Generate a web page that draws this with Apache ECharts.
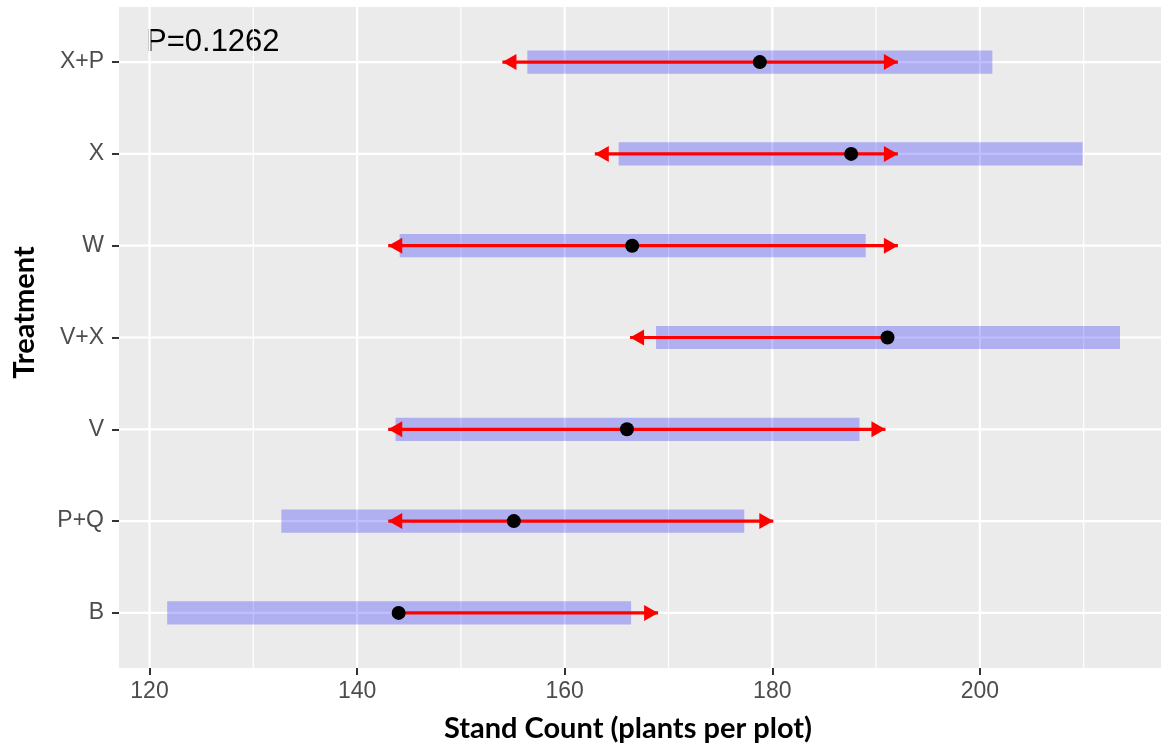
<!DOCTYPE html>
<html>
<head>
<meta charset="utf-8">
<style>
  html, body { margin: 0; padding: 0; background: #ffffff; }
  #chart { width: 1161px; height: 749px; }
</style>
<script src="https://cdn.jsdelivr.net/npm/echarts@6/dist/echarts.min.js"></script>
</head>
<body>
<div id="chart"></div>
<script>
// Treatments, bottom to top
const categories = ['B', 'P+Q', 'V', 'V+X', 'W', 'X', 'X+P'];
// Mean stand count per treatment
const means = [144.0, 155.1, 166.0, 191.1, 166.5, 187.6, 178.8];
// Confidence interval bounds (blue bands)
const ciLow = [121.7, 132.7, 143.7, 168.8, 144.1, 165.2, 156.4];
const ciHigh = [166.4, 177.3, 188.4, 213.5, 189.0, 209.9, 201.2];
// Comparison arrow ends (null = no arrow on that side)
const arrowLow = [null, 143.0, 143.0, 166.3, 143.0, 162.9, 154.0];
const arrowHigh = [169.0, 180.1, 190.9, null, 192.1, 192.1, 192.1];
// Axis ticks
const xMajorTicks = [120, 140, 160, 180, 200];
const xMinorTicks = [130, 150, 170, 190, 210];
const pValueText = 'P=0.1262';

const yPos = categories.map((c, i) => i + 1);

const bandData = categories.map((c, i) => [yPos[i], ciLow[i], ciHigh[i]]);
const arrowData = categories.map((c, i) => [
  yPos[i],
  arrowLow[i] == null ? means[i] : arrowLow[i],
  arrowHigh[i] == null ? means[i] : arrowHigh[i],
  arrowLow[i] == null ? 0 : 1,
  arrowHigh[i] == null ? 0 : 1
]);
const pointData = categories.map((c, i) => [means[i], yPos[i]]);

// grid line records: [orientation (0 = vertical, 1 = horizontal), value, width]
const gridLineData = [
  ...xMinorTicks.map(v => [0, v, 1.2]),
  ...xMajorTicks.map(v => [0, v, 2.2]),
  ...yPos.map(v => [1, v, 2.2])
];

const chart = echarts.init(document.getElementById('chart'), null, { renderer: 'canvas' });

const tickFont = { fontFamily: 'Liberation Sans, Arial, sans-serif', fontSize: 23, color: '#4D4D4D' };
const titleFont = { fontFamily: 'Lato, sans-serif', fontWeight: 'bold', fontSize: 29, color: '#000000' };

function arrowHead(tip, dir) {
  const len = 14, half = 8;
  const bx = tip[0] - dir * len;
  return {
    type: 'polygon',
    shape: { points: [[tip[0], tip[1]], [bx, tip[1] - half], [bx, tip[1] + half]] },
    style: { fill: '#FF0000' }
  };
}

const option = {
  animation: false,
  backgroundColor: '#ffffff',
  grid: {
    left: 119, right: 0, top: 7, bottom: 81,
    containLabel: false,
    outerBoundsMode: 'none',
    show: true, backgroundColor: '#EBEBEB', borderWidth: 0
  },
  xAxis: {
    type: 'value',
    min: 117.06, max: 217.45,
    axisLine: { show: false },
    splitLine: { show: false },
    axisTick: { show: true, length: 7, lineStyle: { color: '#333333', width: 2 }, customValues: xMajorTicks },
    axisLabel: Object.assign({ margin: 12, customValues: xMajorTicks }, tickFont),
    name: 'Stand Count (plants per plot)',
    nameLocation: 'middle',
    nameGap: 46,
    nameTextStyle: Object.assign({ padding: [0, 24, 0, 0] }, titleFont)
  },
  yAxis: {
    type: 'value',
    min: 0.4, max: 7.6,
    axisLine: { show: false },
    splitLine: { show: false },
    axisTick: { show: true, length: 7, lineStyle: { color: '#333333', width: 2 }, customValues: yPos },
    axisLabel: Object.assign({
      margin: 15,
      customValues: yPos,
      formatter: v => categories[Math.round(v) - 1] || ''
    }, tickFont),
    name: 'Treatment',
    nameLocation: 'middle',
    nameRotate: 90,
    nameGap: 80,
    nameTextStyle: Object.assign({ padding: [0, 0, 0, 50] }, titleFont)
  },
  graphic: [{
    type: 'text',
    left: 146, top: 27,
    style: { text: pValueText, font: '31px "Liberation Sans", Arial, sans-serif', fill: '#000000' }
  }],
  series: [
    {
      // panel grid lines
      type: 'custom',
      silent: true,
      z: 1,
      encode: { x: 1, y: 1 },
      data: gridLineData,
      renderItem: (params, api) => {
        const cs = params.coordSys;
        const horiz = api.value(0) === 1;
        const v = api.value(1);
        let shape;
        if (horiz) {
          const y = api.coord([150, v])[1];
          shape = { x1: cs.x, y1: y, x2: cs.x + cs.width, y2: y };
        } else {
          const x = api.coord([v, 4])[0];
          shape = { x1: x, y1: cs.y, x2: x, y2: cs.y + cs.height };
        }
        return { type: 'line', shape, style: { stroke: '#FFFFFF', lineWidth: api.value(2) } };
      }
    },
    {
      // confidence bands
      type: 'custom',
      z: 2,
      encode: { x: [1, 2], y: 0 },
      data: bandData,
      renderItem: (params, api) => {
        const y = api.value(0);
        const p0 = api.coord([api.value(1), y]);
        const p1 = api.coord([api.value(2), y]);
        return {
          type: 'rect',
          shape: { x: p0[0], y: p0[1] - 11.6, width: p1[0] - p0[0], height: 23.2 },
          style: { fill: 'rgba(0,0,255,0.25)' }
        };
      }
    },
    {
      // comparison arrows
      type: 'custom',
      z: 3,
      encode: { x: [1, 2], y: 0 },
      data: arrowData,
      renderItem: (params, api) => {
        const y = api.value(0);
        const a = api.coord([api.value(1), y]);
        const b = api.coord([api.value(2), y]);
        const children = [{
          type: 'line',
          shape: { x1: a[0], y1: a[1], x2: b[0], y2: b[1] },
          style: { stroke: '#FF0000', lineWidth: 3.2 }
        }];
        if (api.value(3)) children.push(arrowHead(a, -1));
        if (api.value(4)) children.push(arrowHead(b, 1));
        return { type: 'group', children };
      }
    },
    {
      // treatment means
      type: 'scatter',
      z: 4,
      data: pointData,
      symbol: 'circle',
      symbolSize: 14,
      itemStyle: { color: '#000000', opacity: 1 }
    }
  ]
};

chart.setOption(option);
</script>
</body>
</html>
